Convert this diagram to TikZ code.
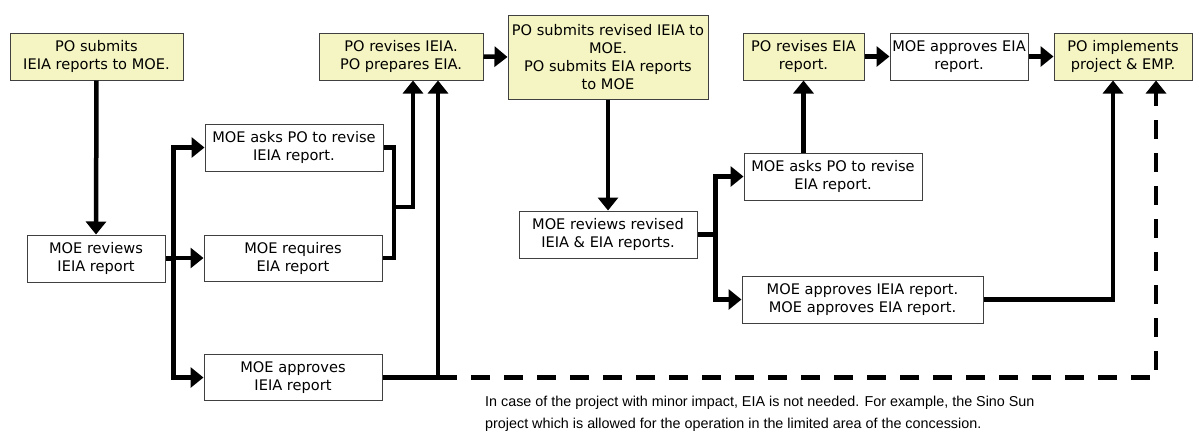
\documentclass[tikz,border=0pt]{standalone}
\usepackage{fontspec}
\setmainfont{DejaVu Sans}
\newfontfamily\notefont{Liberation Sans}
\usetikzlibrary{arrows.meta,calc}
\definecolor{boxyellow}{RGB}{245,245,195}
\definecolor{boxline}{RGB}{64,64,64}
\begin{document}
\begin{tikzpicture}[x=1pt,y=-1pt,
  box/.style={draw=boxline, line width=1pt, fill=white, align=center, inner sep=1pt,
    font=\fontsize{14.6}{18}\selectfont, minimum height=47pt},
  ybox/.style={box, fill=boxyellow},
  conn/.style={line width=4.5pt, line join=miter},
  arr/.style={conn, -{Triangle[length=13pt,width=20pt]}},
  darr/.style={arr, dash pattern=on 19pt off 14pt},
]
\useasboundingbox (0,0) rectangle (1193,437);

% nodes
\node[ybox, minimum width=173pt] (A) at (96.5,56.5) {PO submits\\IEIA reports to MOE.};
\node[box,  minimum width=138pt] (B) at (96,258.5) {MOE reviews\\IEIA report};
\node[box,  minimum width=178pt] (C) at (294,147.5) {MOE asks PO to revise\\IEIA report.};
\node[box,  minimum width=178pt, minimum height=46pt] (D) at (293,258) {MOE requires\\EIA report};
\node[box,  minimum width=178pt, minimum height=46pt] (E) at (293,377.5) {MOE approves\\IEIA report};
\node[ybox, minimum width=164pt] (F) at (401,56.5) {PO revises IEIA.\\PO prepares EIA.};
\node[ybox, minimum width=200pt, minimum height=84pt] (G) at (608,57) {PO submits revised IEIA to\\MOE.\\PO submits EIA reports\\to MOE};
\node[box,  minimum width=178pt] (H) at (608,234.5) {MOE reviews revised\\IEIA \& EIA reports.};
\node[ybox, minimum width=121pt] (I) at (803.5,56.5) {PO revises EIA\\report.};
\node[box,  minimum width=138pt] (J) at (959,56.5) {MOE approves EIA\\report.};
\node[ybox, minimum width=138pt] (K) at (1123,56.5) {PO implements\\project \& EMP.};
\node[box,  minimum width=178pt] (L) at (833,176.5) {MOE asks PO to revise\\EIA report.};
\node[box,  minimum width=241pt] (M) at (862.5,299.5) {MOE approves IEIA report.\\MOE approves EIA report.};

\node[anchor=north west, align=left, inner sep=0pt,
  font=\notefont\fontsize{14.35}{22}\selectfont] (note) at (485,396)
  {In case of the project with minor impact, EIA is not needed. For example, the Sino Sun\\
   project which is allowed for the operation in the limited area of the concession.};

% junction coordinates
\coordinate (bj) at ($(B.east)+(8,0)$);
\coordinate (cj) at (394,207);
\coordinate (fin1) at ($(F.south)+(12,0)$);
\coordinate (fin2) at ($(F.south)+(37,0)$);
\coordinate (ej) at (fin2 |- E.east);
\coordinate (kin1) at ($(K.south)+(-10,0)$);
\coordinate (kin2) at ($(K.south)+(33,0)$);
\coordinate (hj) at ($(H.east)+(18,0)$);

% connectors
\draw[arr] (A.south) -- (B.north);
\draw[conn] (B.east) -- (bj);
\draw[arr] (bj) |- (C.west);
\draw[arr] (bj) |- (E.west);
\draw[arr] (bj |- D.west) -- (D.west);
\draw[conn] (C.east) -| (cj) |- (D.east);
\draw[arr] (cj) -| (fin1);
\draw[arr] (E.east) -| (fin2);
\draw[darr] (ej) -| (kin2);
\draw[arr] (F.east) -- (G.west);
\draw[arr] (G.south) -- (H.north);
\draw[conn] (H.east) -- (hj);
\draw[arr] (hj) |- (L.west);
\draw[arr] (hj) |- (M.west);
\draw[arr] (L.north -| I.south) -- (I.south);
\draw[arr] (I.east) -- (J.west);
\draw[arr] (J.east) -- (K.west);
\draw[arr] (M.east) -| (kin1);
\end{tikzpicture}
\end{document}
